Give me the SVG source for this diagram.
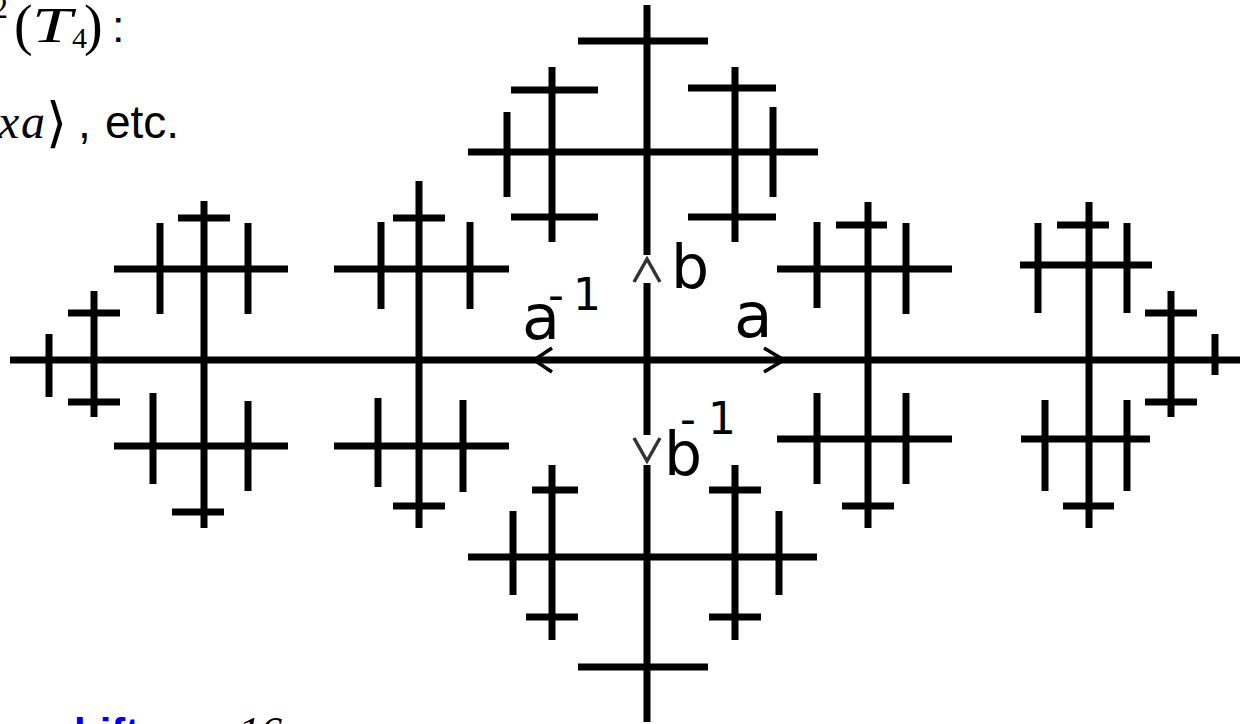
<svg xmlns="http://www.w3.org/2000/svg" width="1240" height="724" viewBox="0 0 1240 724">
<style>
.e{stroke:#000;stroke-width:7;fill:none;stroke-linecap:butt}
.ah{stroke:#000;stroke-width:3.5;fill:none;stroke-linejoin:miter}
.ahv{stroke:#333;stroke-width:3.5;fill:none}
.lbl{font-family:"DejaVu Sans",sans-serif;fill:#000}
.math{font-family:"Liberation Serif","DejaVu Serif",serif;font-style:italic;fill:#000}
.rm{font-family:"Liberation Serif","DejaVu Serif",serif;fill:#000}
.sans{font-family:"Liberation Sans",Arial,sans-serif;fill:#000}
</style>
<rect width="1240" height="724" fill="#fff"/>

<g id="caption">
  <text class="rm" x="-8" y="18" font-size="32">2</text>
  <text class="rm" x="14" y="44" font-size="56">(</text>
  <text class="math" x="32" y="42" font-size="50" textLength="40" lengthAdjust="spacingAndGlyphs">T</text>
  <text class="rm" x="72" y="48" font-size="30">4</text>
  <text class="rm" x="84" y="44" font-size="56">)</text>
  <text class="sans" x="112" y="42" font-size="45">:</text>
  <text class="math" x="-2" y="138" font-size="48">x</text>
  <text class="math" x="21" y="138" font-size="48">a</text>
  <text font-family="DejaVu Sans, sans-serif" x="46" y="141" font-size="54">⟩</text>
  <text class="sans" x="78" y="138" font-size="46">,</text>
  <text class="sans" x="105" y="138" font-size="46">etc.</text>
</g>

<g id="footer">
  <text font-family="Liberation Sans, Arial, sans-serif" font-weight="bold" fill="#0000ee" x="74" y="748" font-size="42">hift</text>
  <text class="math" x="238" y="747" font-size="44">16</text>
</g>

<g id="connectors">
  <line class="e" x1="10" y1="360" x2="1240" y2="360"/>
  <line class="e" x1="647" y1="5" x2="647" y2="255"/>
  <line class="e" x1="647" y1="283" x2="647" y2="435"/>
  <line class="e" x1="647" y1="465" x2="647" y2="722"/>

  <g id="node-b">
    <line class="e" x1="578" y1="41" x2="708" y2="41"/>
    <line class="e" x1="468" y1="152" x2="818" y2="152"/>
    <line class="e" x1="552" y1="67" x2="552" y2="242"/>
    <line class="e" x1="735" y1="67" x2="735" y2="242"/>
    <line class="e" x1="511" y1="90" x2="598" y2="90"/>
    <line class="e" x1="511" y1="217" x2="598" y2="217"/>
    <line class="e" x1="688" y1="88" x2="776" y2="88"/>
    <line class="e" x1="688" y1="217" x2="776" y2="217"/>
    <line class="e" x1="507" y1="112" x2="507" y2="197"/>
    <line class="e" x1="773" y1="107" x2="773" y2="197"/>
  </g>

  <g id="node-binv">
    <line class="e" x1="468" y1="557" x2="817" y2="557"/>
    <line class="e" x1="578" y1="667" x2="708" y2="667"/>
    <line class="e" x1="552" y1="465" x2="552" y2="640"/>
    <line class="e" x1="735" y1="465" x2="735" y2="640"/>
    <line class="e" x1="532" y1="490" x2="578" y2="490"/>
    <line class="e" x1="709" y1="490" x2="761" y2="490"/>
    <line class="e" x1="526" y1="617" x2="578" y2="617"/>
    <line class="e" x1="709" y1="617" x2="761" y2="617"/>
    <line class="e" x1="513" y1="511" x2="513" y2="595"/>
    <line class="e" x1="779" y1="511" x2="779" y2="595"/>
  </g>

  <g id="node-ainv2">
    <line class="e" x1="204" y1="201" x2="204" y2="528"/>
    <line class="e" x1="114" y1="269" x2="288" y2="269"/>
    <line class="e" x1="114" y1="446" x2="288" y2="446"/>
    <line class="e" x1="178" y1="218" x2="230" y2="218"/>
    <line class="e" x1="172" y1="512" x2="224" y2="512"/>
    <line class="e" x1="160" y1="223" x2="160" y2="314"/>
    <line class="e" x1="248" y1="223" x2="248" y2="314"/>
    <line class="e" x1="153" y1="393" x2="153" y2="484"/>
    <line class="e" x1="248" y1="401" x2="248" y2="491"/>
    <line class="e" x1="94" y1="291" x2="94" y2="417"/>
    <line class="e" x1="68" y1="313" x2="120" y2="313"/>
    <line class="e" x1="68" y1="402" x2="120" y2="402"/>
    <line class="e" x1="49" y1="334" x2="49" y2="397"/>
  </g>
  <g id="node-ainv">
    <line class="e" x1="419" y1="181" x2="419" y2="528"/>
    <line class="e" x1="334" y1="269" x2="509" y2="269"/>
    <line class="e" x1="334" y1="446" x2="509" y2="446"/>
    <line class="e" x1="393" y1="218" x2="445" y2="218"/>
    <line class="e" x1="393" y1="506" x2="445" y2="506"/>
    <line class="e" x1="381" y1="222" x2="381" y2="309"/>
    <line class="e" x1="470" y1="222" x2="470" y2="309"/>
    <line class="e" x1="378" y1="398" x2="378" y2="487"/>
    <line class="e" x1="463" y1="400" x2="463" y2="492"/>
  </g>

  <g id="node-a">
    <line class="e" x1="868" y1="202" x2="868" y2="528"/>
    <line class="e" x1="777" y1="269" x2="952" y2="269"/>
    <line class="e" x1="777" y1="439" x2="952" y2="439"/>
    <line class="e" x1="836" y1="225" x2="887" y2="225"/>
    <line class="e" x1="842" y1="506" x2="894" y2="506"/>
    <line class="e" x1="817" y1="222" x2="817" y2="308"/>
    <line class="e" x1="906" y1="223" x2="906" y2="314"/>
    <line class="e" x1="817" y1="393" x2="817" y2="484"/>
    <line class="e" x1="906" y1="393" x2="906" y2="484"/>
  </g>
  <g id="node-a2">
    <line class="e" x1="1089" y1="202" x2="1089" y2="528"/>
    <line class="e" x1="1020" y1="265" x2="1152" y2="265"/>
    <line class="e" x1="1021" y1="439" x2="1150" y2="439"/>
    <line class="e" x1="1057" y1="225" x2="1109" y2="225"/>
    <line class="e" x1="1063" y1="506" x2="1114" y2="506"/>
    <line class="e" x1="1038" y1="223" x2="1038" y2="313"/>
    <line class="e" x1="1127" y1="223" x2="1127" y2="313"/>
    <line class="e" x1="1045" y1="400" x2="1045" y2="491"/>
    <line class="e" x1="1127" y1="400" x2="1127" y2="491"/>
    <line class="e" x1="1171" y1="291" x2="1171" y2="417"/>
    <line class="e" x1="1145" y1="313" x2="1197" y2="313"/>
    <line class="e" x1="1145" y1="402" x2="1197" y2="402"/>
    <line class="e" x1="1215" y1="334" x2="1215" y2="375"/>
  </g>

  <polyline class="ah" points="552,348 534,360 552,372"/>
  <polyline class="ah" points="764,348 784,360 764,372"/>
  <polyline class="ahv" points="634,282 647,259 660,282"/>
  <polyline class="ahv" points="634,438 647,461 660,438"/>
</g>

<g id="labels">
  <text class="lbl" x="671" y="288" font-size="60">b</text>
  <text class="lbl" x="734" y="337" font-size="63">a</text>
  <text class="lbl" x="522" y="339" font-size="62">a</text>
  <text class="lbl" x="548" y="310" font-size="44">-</text>
  <text class="lbl" x="573" y="310" font-size="44">1</text>
  <text class="lbl" x="664" y="475" font-size="60">b</text>
  <text class="lbl" x="680" y="434" font-size="44">-</text>
  <text class="lbl" x="708" y="434" font-size="44">1</text>
</g>
</svg>
